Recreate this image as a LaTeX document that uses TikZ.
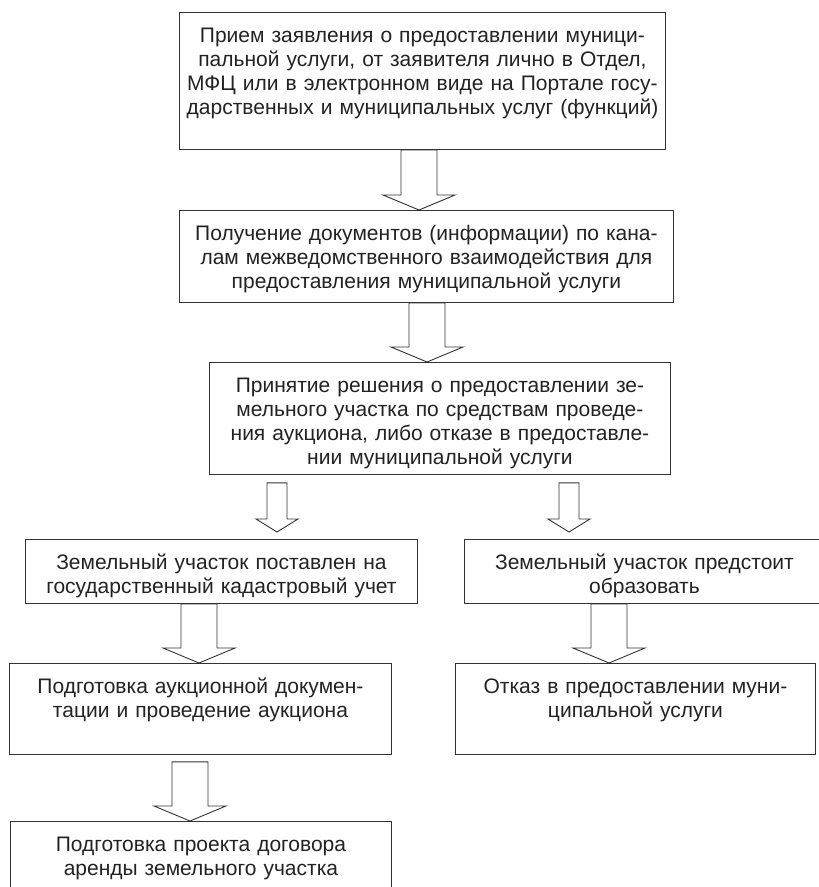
\documentclass[tikz,border=0pt]{standalone}
\usepackage{fontspec}
\newfontfamily\flowfont{Liberation Sans}
\usetikzlibrary{calc}
\definecolor{ink}{HTML}{222222}
\definecolor{edge}{HTML}{333333}
\tikzset{
  flowbox/.style={draw=edge, line width=0.9pt, anchor=north west, align=center,
    inner xsep=0pt, inner ysep=6pt, text height=24pt, text=ink,
    font=\flowfont\fontsize{21}{24}\selectfont},
  hollow/.style n args={3}{draw=edge, line width=0.9pt, to path={
      ($(\tikztostart)+(-#1,0)$) -- ($(\tikztotarget)+(-#1,-#3)$)
      -- ($(\tikztotarget)+(-#2,-#3)$) -- (\tikztotarget)
      -- ($(\tikztotarget)+(#2,-#3)$) -- ($(\tikztotarget)+(#1,-#3)$)
      -- ($(\tikztostart)+(#1,0)$) -- cycle}},
  bigarrow/.style={hollow={18}{36}{15}},
  smallarrow/.style={hollow={10}{21}{13}}
}
\begin{document}
\begin{tikzpicture}[x=1pt, y=-1pt]
  \useasboundingbox (0,0) rectangle (819,887);
  \clip (0,0) rectangle (819,887);
  % boxes
  \node[flowbox, text width=486pt, text depth=101pt] (recv) at (179,12)
    {Прием заявления о предоставлении муници-\\
     пальной услуги, от заявителя лично в Отдел,\\
     МФЦ или в электронном виде на Портале госу-\\
     дарственных и муниципальных услуг (функций)};
  \node[flowbox, text width=494pt, text depth=56pt] (docs) at (179,210)
    {Получение документов (информации) по кана-\\
     лам межведомственного взаимодействия для\\
     предоставления муниципальной услуги};
  \node[flowbox, text width=461pt, text depth=76pt] (decide) at (209,362)
    {Принятие решения о предоставлении зе-\\
     мельного участка по средствам проведе-\\
     ния аукциона, либо отказе в предоставле-\\
     нии муниципальной услуги};
  \node[flowbox, text width=392pt, text depth=28pt] (regist) at (25,539)
    {Земельный участок поставлен на\\
     государственный кадастровый учет};
  \node[flowbox, text width=360pt, text depth=28pt] (form) at (464,539)
    {Земельный участок предстоит\\
     образовать};
  \node[flowbox, text width=382pt, text depth=55pt] (auction) at (9,663)
    {Подготовка аукционной докумен-\\
     тации и проведение аукциона};
  \node[flowbox, text width=360pt, text depth=55pt] (refuse) at (455,663)
    {Отказ в предоставлении муни-\\
     ципальной услуги};
  \node[flowbox, text width=381pt, text depth=80pt] (lease) at (10,821)
    {Подготовка проекта договора\\
     аренды земельного участка};
  % arrows
  \draw[bigarrow] (recv.south -| 419,0) to (docs.north -| 419,0);
  \draw[bigarrow] (docs.south -| 427,0) to (decide.north -| 427,0);
  \draw[smallarrow] ($(decide.south -| 277,0)+(0,8)$) to ($(regist.north -| 277,0)+(0,-7)$);
  \draw[smallarrow] ($(decide.south -| 569,0)+(0,8)$) to ($(form.north -| 569,0)+(0,-7)$);
  \draw[bigarrow] (regist.south -| 199,0) to (auction.north -| 199,0);
  \draw[bigarrow] (form.south -| 609,0) to (refuse.north -| 609,0);
  \draw[bigarrow] ($(auction.south -| 190,0)+(0,7)$) to (lease.north -| 190,0);
\end{tikzpicture}
\end{document}
